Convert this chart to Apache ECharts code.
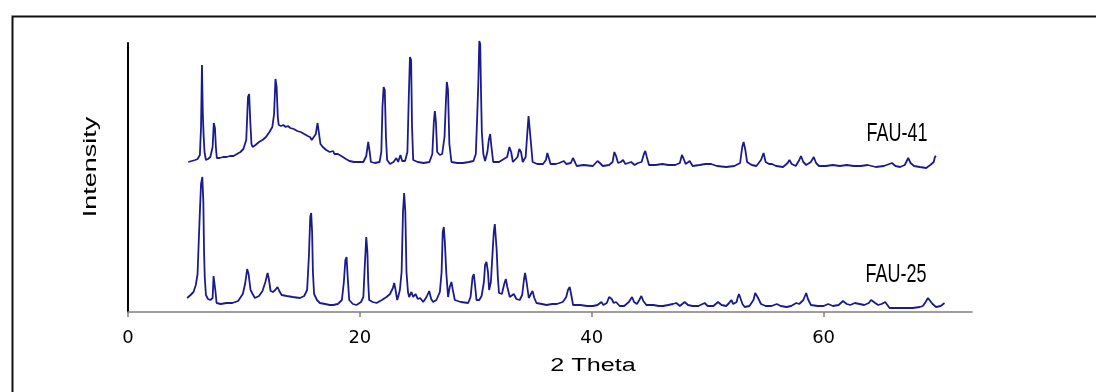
<!DOCTYPE html>
<html>
<head>
<meta charset="utf-8">
<script src="https://cdn.jsdelivr.net/npm/echarts@6/dist/echarts.min.js"></script>
<style>
html,body{margin:0;padding:0;background:#fff;}
#chart{width:1096px;height:392px;}
</style>
</head>
<body>
<div id="chart"></div>
<script>
// x tick labels (2 Theta)
const xTicks = [0, 20, 40, 60];
const seriesNames = ['FAU-41', 'FAU-25'];
// [2 Theta, intensity (arbitrary units, offset traces)]
const fau41 = [[5.2,150],[5.5,151],[5.8,152],[6.0,153],[6.2,157],[6.3,185],[6.38,247],[6.45,200],[6.52,177],[6.6,160],[6.72,152],[6.9,153],[7.1,155],[7.3,165],[7.4,189],[7.5,184],[7.58,165],[7.66,154],[7.9,154],[8.2,155],[8.5,155],[8.8,156],[9.1,156],[9.4,158],[9.7,160],[9.95,163],[10.2,172],[10.35,215],[10.45,218],[10.55,190],[10.65,168],[10.75,165],[11.0,167],[11.3,170],[11.6,172],[11.9,175],[12.2,180],[12.45,185],[12.6,198],[12.72,233],[12.82,225],[12.92,195],[13.0,187],[13.2,186],[13.4,187],[13.6,185],[13.8,186],[14.0,184],[14.3,183],[14.6,181],[14.9,180],[15.2,178],[15.5,176],[15.7,175],[15.85,172],[16.0,170],[16.2,178],[16.35,189],[16.48,188],[16.6,168],[16.8,165],[17.1,162],[17.4,160],[17.7,161],[17.8,158],[18.1,158],[18.4,156],[18.8,153],[19.1,151],[19.5,150],[19.9,150],[20.3,150],[20.55,156],[20.72,170],[20.85,160],[20.95,150],[21.3,149],[21.7,150],[21.85,160],[21.95,205],[22.05,225],[22.15,222],[22.25,175],[22.35,152],[22.6,148],[22.9,150],[23.15,154],[23.3,150],[23.5,157],[23.65,151],[23.9,151],[24.1,160],[24.22,215],[24.32,255],[24.42,252],[24.5,185],[24.6,152],[25.0,150],[25.5,149],[26.0,150],[26.25,158],[26.38,190],[26.47,201],[26.56,190],[26.67,160],[26.9,157],[27.1,158],[27.3,175],[27.42,210],[27.5,230],[27.6,222],[27.72,168],[27.9,150],[28.4,149],[28.9,149],[29.4,150],[29.8,151],[30.0,158],[30.12,195],[30.22,230],[30.3,271],[30.38,268],[30.45,220],[30.52,180],[30.65,158],[30.8,151],[31.0,160],[31.12,172],[31.24,178],[31.35,165],[31.5,150],[32.0,150],[32.7,155],[32.9,165],[33.05,160],[33.2,150],[33.6,155],[33.75,163],[33.9,160],[34.05,150],[34.3,155],[34.45,180],[34.55,196],[34.65,194],[34.75,170],[34.9,150],[35.3,148],[35.8,148],[36.05,152],[36.17,159],[36.3,154],[36.45,148],[36.9,148],[37.2,149],[37.6,151],[37.8,148],[38.2,149],[38.38,154],[38.55,150],[38.7,146],[39.3,147],[40.1,146],[40.5,151],[40.7,149],[40.95,146],[41.5,147],[41.8,150],[41.95,160],[42.1,156],[42.27,149],[42.5,150],[42.7,152],[42.9,148],[43.4,150],[43.7,147],[44.0,149],[44.3,150],[44.5,158],[44.62,161],[44.75,155],[44.94,147],[45.5,147],[46.1,148],[46.6,147],[47.2,147],[47.6,149],[47.78,157],[47.9,154],[48.1,148],[48.45,151],[48.7,146],[49.3,147],[49.8,148],[50.3,148],[50.8,146],[51.6,145],[52.3,146],[52.8,149],[52.98,165],[53.1,170],[53.25,162],[53.4,150],[53.8,147],[54.2,146],[54.6,152],[54.82,159],[55.0,150],[55.3,148],[55.55,148],[55.9,146],[56.5,145],[56.9,149],[57.05,152],[57.25,148],[57.6,146],[57.9,152],[58.05,156],[58.25,150],[58.5,147],[58.9,150],[59.15,155],[59.35,149],[59.6,146],[60.2,146],[60.8,147],[61.4,146],[62.0,147],[62.6,146],[63.2,146],[63.8,147],[64.5,145],[65.2,146],[65.9,149],[66.2,146],[66.6,145],[67.0,147],[67.3,154],[67.5,149],[67.8,146],[68.3,145],[68.85,144],[69.2,147],[69.5,150],[69.6,155],[69.7,156]];
const fau25 = [[5.1,14],[5.4,17],[5.65,20],[5.85,27],[6.0,38],[6.1,70],[6.2,100],[6.3,128],[6.41,135],[6.5,110],[6.56,60],[6.62,35],[6.72,17],[6.9,13],[7.1,12],[7.3,14],[7.38,36],[7.47,38],[7.55,20],[7.64,9],[8.0,8],[8.5,9],[9.0,9],[9.5,11],[9.9,18],[10.1,28],[10.28,43],[10.4,38],[10.57,22],[10.75,18],[10.95,14],[11.3,16],[11.6,21],[11.85,30],[12.04,39],[12.15,33],[12.3,21],[12.5,20],[12.7,22],[12.9,25],[13.05,21],[13.25,17],[13.7,16],[14.2,15],[14.83,14],[15.2,16],[15.45,22],[15.6,55],[15.72,95],[15.8,99],[15.88,80],[15.95,40],[16.05,18],[16.3,12],[16.55,9],[17.0,8],[17.4,7],[17.7,7],[18.1,8],[18.45,12],[18.62,30],[18.75,52],[18.85,55],[18.95,35],[19.08,12],[19.4,8],[19.71,7],[20.1,10],[20.3,15],[20.42,45],[20.55,75],[20.65,60],[20.72,30],[20.8,12],[21.1,10],[21.44,9],[21.9,12],[22.3,15],[22.6,18],[22.85,24],[22.96,29],[23.08,22],[23.22,12],[23.3,15],[23.45,22],[23.6,40],[23.72,100],[23.82,119],[23.92,100],[24.02,40],[24.15,20],[24.25,15],[24.45,20],[24.6,15],[24.8,18],[25.0,13],[25.2,14],[25.46,10],[25.75,15],[25.98,21],[26.15,13],[26.32,10],[26.6,12],[26.9,20],[27.05,40],[27.15,80],[27.24,85],[27.33,70],[27.45,40],[27.61,15],[27.75,25],[27.9,30],[28.02,22],[28.19,12],[28.7,10],[29.34,9],[29.55,15],[29.72,35],[29.83,38],[29.95,25],[30.06,12],[30.3,12],[30.5,16],[30.7,30],[30.8,47],[30.92,50],[31.05,40],[31.15,22],[31.3,30],[31.45,60],[31.55,80],[31.64,88],[31.72,75],[31.8,62],[31.9,35],[32.0,19],[32.25,18],[32.45,28],[32.59,33],[32.72,25],[32.93,15],[33.1,16],[33.28,18],[33.5,13],[33.79,12],[34.0,17],[34.15,32],[34.25,39],[34.38,30],[34.57,14],[34.75,18],[34.89,21],[35.05,14],[35.23,9],[35.7,8],[36.09,7],[36.6,8],[37.0,8],[37.5,10],[37.8,15],[37.95,22],[38.1,25],[38.22,18],[38.39,7],[39.0,7],[39.6,6],[40.11,6],[40.5,7],[40.83,10],[41.0,7],[41.3,9],[41.5,15],[41.6,17],[41.72,13],[41.9,9],[42.1,10],[42.41,6],[42.8,6],[43.2,10],[43.48,15],[43.65,10],[43.9,8],[44.1,12],[44.28,16],[44.45,11],[44.71,7],[45.3,7],[45.8,6],[46.15,6],[46.6,7],[47.0,8],[47.3,9],[47.6,6],[48.02,10],[48.3,7],[48.7,6],[49.2,6],[49.74,9],[50.0,6],[50.5,6],[50.89,10],[51.2,7],[51.6,6],[51.85,9],[52.04,12],[52.2,8],[52.5,10],[52.6,15],[52.7,18],[52.85,13],[53.0,8],[53.19,5],[53.6,6],[53.95,12],[54.1,19],[54.2,21],[54.35,14],[54.6,8],[55.0,6],[55.5,6],[55.97,8],[56.3,6],[56.8,5],[57.2,6],[57.64,9],[57.9,8],[58.25,12],[58.5,19],[58.65,13],[58.9,7],[59.5,6],[60.0,6],[60.4,8],[60.8,6],[61.3,7],[61.67,11],[62.0,8],[62.3,7],[62.7,9],[63.1,8],[63.5,7],[63.9,9],[64.1,12],[64.25,13],[64.45,9],[64.7,7],[65.0,8],[65.31,10],[65.5,7],[65.69,4],[66.3,4],[67.0,4],[67.7,4],[68.3,5],[68.56,6],[68.8,10],[69.0,14],[69.15,13],[69.4,8],[69.7,5],[70.1,6],[70.43,9]];

const chart = echarts.init(document.getElementById('chart'), null, {renderer: 'canvas'});
const FONT = 'Liberation Sans, Arial, sans-serif';
const lineColor = '#1b1b8c';

chart.setOption({
  animation: false,
  backgroundColor: '#ffffff',
  grid: {left: 128, right: 124, top: 43, bottom: 80, containLabel: false},
  xAxis: {
    type: 'value', min: 0, max: 72.8, interval: 20,
    axisLine: {show: true, onZero: false, lineStyle: {color: '#7f7f7f', width: 1.5}},
    axisTick: {show: true, length: 5, customValues: xTicks, lineStyle: {color: '#7f7f7f', width: 1.5}},
    axisLabel: {customValues: xTicks, color: '#000', fontSize: 18, margin: 17, fontFamily: 'DejaVu Sans, sans-serif'},
    splitLine: {show: false}
  },
  yAxis: {
    type: 'value', min: 0, max: 269,
    axisLine: {show: true, lineStyle: {color: '#000', width: 2}},
    axisTick: {show: false}, axisLabel: {show: false}, splitLine: {show: false}
  },
  series: [
    {name: seriesNames[0], type: 'line', data: fau41, showSymbol: false, clip: false,
     lineStyle: {color: lineColor, width: 1.8}, z: 3},
    {name: seriesNames[1], type: 'line', data: fau25, showSymbol: false, clip: false,
     lineStyle: {color: lineColor, width: 1.8}, z: 3}
  ],
  graphic: [
    {type: 'rect', left: 10, top: 14, shape: {x: 0, y: 0, width: 1100, height: 400},
     style: {fill: 'none', stroke: '#111', lineWidth: 2}, silent: true},
    {type: 'text', x: 91, y: 167, rotation: Math.PI / 2, scaleX: 1.5,
     style: {text: 'Intensity', fontSize: 18, fontFamily: FONT, fill: '#000', align: 'center', verticalAlign: 'middle'}},
    {type: 'text', x: 593, y: 366, scaleX: 1.4,
     style: {text: '2 Theta', fontSize: 18, fontFamily: FONT, fill: '#000', align: 'center', verticalAlign: 'middle'}},
    {type: 'text', x: 897, y: 134, scaleY: 1.4,
     style: {text: seriesNames[0], fontSize: 18, fontFamily: FONT, fill: '#000', align: 'center', verticalAlign: 'middle'}},
    {type: 'text', x: 896, y: 275, scaleY: 1.4,
     style: {text: seriesNames[1], fontSize: 18, fontFamily: FONT, fill: '#000', align: 'center', verticalAlign: 'middle'}}
  ]
});
</script>
</body>
</html>
